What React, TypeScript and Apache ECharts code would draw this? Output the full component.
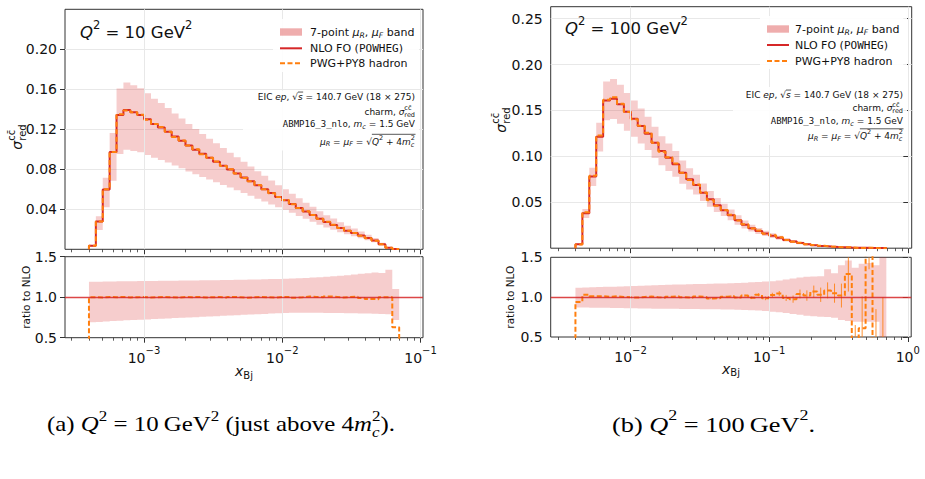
import React, { useEffect, useRef } from 'react';
import * as echarts from 'echarts';

// ---------------- data ----------------
// 45 log-uniform bins in x_Bj for each Q^2 value
const N_BINS = 45;
const X_RANGE_A = [4e-4, 0.07];
const X_RANGE_B = [4e-3, 0.7];

// axis limits (log10 x)
const X_VIEW_A = [-3.5712, -0.9826];
const X_VIEW_B = [-2.5764, 0.0245];
const DECADES_A = [-3, -2, -1];
const DECADES_B = [-2, -1, 0];

const Y_TICKS_A = [0.04, 0.08, 0.12, 0.16, 0.2];
const Y_TICKS_B = [0.05, 0.1, 0.15, 0.2, 0.25];
const RATIO_TICKS = [0.5, 1.0, 1.5];

// Q^2 = 10 GeV^2
const NLO_A = [0.0035, 0.0278, 0.0599, 0.0973, 0.1344, 0.1393, 0.137, 0.1344, 0.13, 0.1254, 0.1218, 0.1175, 0.1128, 0.1085, 0.1039, 0.0996, 0.0955, 0.0915, 0.0876, 0.0836, 0.0797, 0.0758, 0.0719, 0.068, 0.064, 0.0601, 0.0562, 0.0523, 0.049, 0.0452, 0.0413, 0.0377, 0.0342, 0.0305, 0.0272, 0.0244, 0.0213, 0.0186, 0.0162, 0.0138, 0.0113, 0.0087, 0.005, 0.0016, 0.0004];
const PWG_RATIO_A = [1.0, 0.996, 1.002, 1.0, 1.004, 0.997, 1.0, 1.002, 0.996, 1.0, 1.004, 1.0, 0.996, 1.002, 1.0, 1.004, 0.996, 1.0, 1.002, 0.995, 1.004, 1.0, 0.992, 1.0, 1.004, 1.0, 0.996, 1.002, 1.004, 0.994, 1.0, 1.008, 1.004, 1.0, 1.01, 1.004, 0.996, 1.002, 1.006, 0.99, 0.978, 0.975, 0.998, 1.0, 0.63];
const SCALE_UP_A = [1.19, 1.192, 1.194, 1.195, 1.196, 1.197, 1.198, 1.199, 1.2, 1.201, 1.202, 1.203, 1.204, 1.205, 1.206, 1.207, 1.208, 1.209, 1.21, 1.211, 1.212, 1.214, 1.216, 1.218, 1.22, 1.222, 1.224, 1.226, 1.228, 1.231, 1.234, 1.238, 1.242, 1.247, 1.252, 1.258, 1.265, 1.272, 1.28, 1.288, 1.296, 1.305, 1.3, 1.34, 1.1];
const SCALE_DN_A = [0.69, 0.695, 0.7, 0.705, 0.71, 0.714, 0.718, 0.722, 0.726, 0.73, 0.734, 0.738, 0.742, 0.746, 0.75, 0.754, 0.758, 0.762, 0.766, 0.77, 0.774, 0.778, 0.782, 0.786, 0.79, 0.794, 0.798, 0.802, 0.805, 0.807, 0.808, 0.808, 0.808, 0.807, 0.806, 0.805, 0.804, 0.803, 0.802, 0.8, 0.798, 0.796, 0.794, 0.79, 0.72];

// Q^2 = 100 GeV^2
const NLO_B = [0.0043, 0.038, 0.078, 0.1214, 0.1609, 0.1627, 0.1569, 0.1485, 0.141, 0.133, 0.1247, 0.1149, 0.1058, 0.0986, 0.0913, 0.0823, 0.075, 0.0688, 0.0605, 0.0533, 0.0467, 0.0413, 0.0359, 0.0304, 0.0256, 0.0216, 0.0186, 0.016, 0.0136, 0.0113, 0.009, 0.0072, 0.0056, 0.0043, 0.0033, 0.0025, 0.0018, 0.0013, 0.001, 0.0007, 0.0005, 0.0004, 0.0003, 0.0002, 0.0001];
const PWG_RATIO_B = [0.94, 1.03, 1.01, 1.012, 1.005, 1.01, 1.002, 0.998, 0.995, 1.003, 1.008, 1.0, 0.994, 1.004, 1.01, 0.998, 0.992, 1.008, 1.002, 0.982, 0.988, 1.004, 1.012, 0.996, 1.02, 0.992, 1.03, 0.985, 1.028, 1.045, 0.99, 0.975, 1.04, 1.02, 1.07, 1.03, 1.085, 1.05, 1.02, 1.29, 0.35, 0.61, 1.9, 0.25, 0.2];
const PWG_ERR_B = [0.002, 0.002, 0.002, 0.002, 0.002, 0.002, 0.002, 0.002, 0.003, 0.003, 0.003, 0.003, 0.004, 0.004, 0.004, 0.005, 0.005, 0.006, 0.006, 0.007, 0.008, 0.009, 0.01, 0.012, 0.014, 0.016, 0.019, 0.023, 0.027, 0.032, 0.038, 0.045, 0.055, 0.065, 0.075, 0.09, 0.1, 0.12, 0.15, 0.22, 0.3, 0.4, 0.55, 0.6, 0.8];
const SCALE_UP_B = [1.117, 1.12, 1.123, 1.126, 1.129, 1.132, 1.135, 1.138, 1.141, 1.144, 1.147, 1.15, 1.153, 1.156, 1.158, 1.16, 1.162, 1.164, 1.166, 1.168, 1.17, 1.172, 1.175, 1.178, 1.182, 1.186, 1.19, 1.195, 1.2, 1.21, 1.222, 1.235, 1.248, 1.255, 1.258, 1.262, 1.35, 1.3, 1.4, 1.46, 1.37, 1.42, 1.43, 1.4, 1.85];
const SCALE_DN_B = [0.87, 0.869, 0.868, 0.867, 0.866, 0.865, 0.864, 0.862, 0.86, 0.858, 0.857, 0.856, 0.855, 0.854, 0.853, 0.852, 0.851, 0.85, 0.849, 0.848, 0.847, 0.846, 0.845, 0.843, 0.84, 0.836, 0.831, 0.825, 0.818, 0.81, 0.8, 0.79, 0.778, 0.768, 0.76, 0.755, 0.75, 0.74, 0.712, 0.7, 0.692, 0.69, 0.69, 0.69, 0.2];

// ---------------- style ----------------
const SANS = 'DejaVu Sans';
const MONO = 'DejaVu Sans Mono';
const SERIF = 'Liberation Serif';
const INK = '#111';
const FRAME = '#333';
const RED = '#d62728';
const ORANGE = '#ff7f0e';
const BAND = 'rgba(214, 39, 40, 0.23)';
const BAND_KEY = 'rgba(214, 39, 40, 0.38)';
const GRID_GRAY = '#e8e8e8';

const GRIDS = [
  { left: 65, top: 9.3, width: 358, height: 240 },
  { left: 65, top: 256.7, width: 358, height: 81 },
  { left: 550.7, top: 6.7, width: 361, height: 241.5 },
  { left: 550.7, top: 257.3, width: 360.5, height: 79.7 },
];

// ---------------- text layout helpers ----------------
type Piece = { t: string; fs?: number; it?: boolean; mono?: boolean; dy?: number; stack?: boolean; bar?: boolean };

let measureCtx: CanvasRenderingContext2D | null = null;
function textWidth(text: string, size: number, family: string, italic: boolean) {
  if (!measureCtx) measureCtx = document.createElement('canvas').getContext('2d');
  measureCtx!.font = `${italic ? 'italic ' : ''}${size}px "${family}"`;
  return measureCtx!.measureText(text).width;
}

function layoutPieces(pieces: Piece[], base: number, family: string) {
  const pos: number[] = [];
  const widths: number[] = [];
  let cur = 0, prevStart = 0, prevW = 0;
  pieces.forEach((p) => {
    const w = textWidth(p.t, p.fs ?? base, p.mono ? MONO : family, !!p.it);
    if (p.stack) {
      pos.push(prevStart);
      prevW = Math.max(prevW, w);
      cur = prevStart + prevW;
    } else {
      pos.push(cur);
      prevStart = cur;
      prevW = w;
      cur += w;
    }
    widths.push(w);
  });
  return { pos, widths, total: cur };
}

function mathLine(
  pieces: Piece[], x: number, y: number, align: 'left' | 'right' | 'center',
  base: number, family: string, color = INK, barDy = -0.62, z = 20,
): any[] {
  const { pos, widths, total } = layoutPieces(pieces, base, family);
  const x0 = align === 'right' ? x - total : align === 'center' ? x - total / 2 : x;
  const els: any[] = pieces.map((p, i) => ({
    type: 'text', x: x0 + pos[i], y: y + (p.dy ?? 0), silent: true, z,
    style: {
      text: p.t, fontSize: p.fs ?? base, fontFamily: p.mono ? MONO : family,
      fontStyle: p.it ? 'italic' : 'normal', fill: color, align: 'left', verticalAlign: 'middle',
    },
  }));
  const barIdx = pieces.map((p, i) => (p.bar ? i : -1)).filter((i) => i >= 0);
  if (barIdx.length) {
    const bx0 = x0 + pos[barIdx[0]];
    const bx1 = x0 + Math.max(...barIdx.map((i) => pos[i] + widths[i]));
    els.push({
      type: 'line', silent: true, z,
      shape: { x1: bx0, y1: y + barDy * base, x2: bx1 + 0.5, y2: y + barDy * base },
      style: { stroke: color, lineWidth: 0.7 },
    });
  }
  return els;
}

// ---------------- chart pieces ----------------
function logEdges(range: number[], n: number) {
  const a = Math.log10(range[0]);
  const b = Math.log10(range[1]);
  return Array.from({ length: n + 1 }, (_, i) => a + ((b - a) * i) / n);
}

function minorLogTicks(view: number[]) {
  const out: number[] = [];
  for (let d = Math.floor(view[0]); d <= Math.ceil(view[1]); d++) {
    for (let k = 2; k <= 9; k++) {
      const v = d + Math.log10(k);
      if (v > view[0] && v < view[1]) out.push(v);
    }
  }
  return out;
}

function stepLine(xi: number, yi: number, edges: number[], vals: number[], color: string, dashed: boolean, z: number) {
  const n = vals.length;
  const pts: number[][] = [[edges[0], 0]];
  vals.forEach((v, i) => pts.push([edges[i], v]));
  pts.push([edges[n], vals[n - 1]]);
  pts.push([edges[n], 0]);
  return {
    type: 'line', xAxisIndex: xi, yAxisIndex: yi, z, step: 'end', data: pts,
    showSymbol: false, symbol: 'none', silent: true, clip: true,
    lineStyle: { color, width: 2, type: dashed ? [5, 2.5] : 'solid', cap: 'butt' },
  };
}

function bandSeries(xi: number, yi: number, edges: number[], lo: number[], hi: number[], yMin: number, yMax: number) {
  const c = (v: number) => Math.min(Math.max(v, yMin), yMax);
  return {
    type: 'custom', xAxisIndex: xi, yAxisIndex: yi, z: 2, silent: true,
    data: [[edges[0], c(lo[0])]],
    renderItem: (params: any, api: any) => {
      if (params.dataIndex !== 0) return null;
      const pts: number[][] = [];
      for (let i = 0; i < lo.length; i++) {
        pts.push(api.coord([edges[i], c(hi[i])]));
        pts.push(api.coord([edges[i + 1], c(hi[i])]));
      }
      for (let i = lo.length - 1; i >= 0; i--) {
        pts.push(api.coord([edges[i + 1], c(lo[i])]));
        pts.push(api.coord([edges[i], c(lo[i])]));
      }
      return { type: 'polygon', shape: { points: pts }, style: { fill: BAND } };
    },
  };
}

function errorBars(xi: number, yi: number, edges: number[], vals: number[], errs: number[], yMin: number, yMax: number) {
  const c = (v: number) => Math.min(Math.max(v, yMin), yMax);
  const data = vals.map((v, i) => [(edges[i] + edges[i + 1]) / 2, v - errs[i], v + errs[i]]);
  return {
    type: 'custom', xAxisIndex: xi, yAxisIndex: yi, z: 4, silent: true, data,
    renderItem: (_p: any, api: any) => {
      const a = c(api.value(1));
      const b = c(api.value(2));
      if (b - a <= 0) return null;
      const p0 = api.coord([api.value(0), a]);
      const p1 = api.coord([api.value(0), b]);
      if (Math.abs(p0[1] - p1[1]) < 1) return null;
      return { type: 'line', shape: { x1: p0[0], y1: p0[1], x2: p1[0], y2: p1[1] }, style: { stroke: ORANGE, lineWidth: 1, opacity: 0.85 } };
    },
  };
}

function gridMarks(xi: number, yi: number, items: any[], z: number) {
  return {
    type: 'line', xAxisIndex: xi, yAxisIndex: yi, z, data: [], silent: true,
    markLine: {
      silent: true, symbol: ['none', 'none'], label: { show: false }, animation: false,
      lineStyle: { color: GRID_GRAY, width: 1, type: 'solid' },
      data: items,
    },
  };
}

const PANELS = [
  {
    xRange: X_RANGE_A, xView: X_VIEW_A, decades: DECADES_A, yMax: 0.24, yStep: 0.04, yTicks: Y_TICKS_A,
    nlo: NLO_A, ratio: PWG_RATIO_A, up: SCALE_UP_A, dn: SCALE_DN_A, err: null as number[] | null,
    q2: '10',
    legendBox: { x: 273, y: 19, width: 146, height: 53 },
    legendX: 280, legendTextX: 310, legendRows: [32, 48.3, 63.3], titleX: 80, titleY: 32,
    noteBox: { x: 243, y: 90.5, width: 176, height: 60 },
    noteX: 415, noteRows: [97, 111.5, 124, 141.5], sigmaX: 17, sigmaY: 137,
    ratioLabelX: 26, xTitleX: 244, xTitleY: 371,
  },
  {
    xRange: X_RANGE_B, xView: X_VIEW_B, decades: DECADES_B, yMax: 0.263, yStep: 0.05, yTicks: Y_TICKS_B,
    nlo: NLO_B, ratio: PWG_RATIO_B, up: SCALE_UP_B, dn: SCALE_DN_B, err: PWG_ERR_B as number[] | null,
    q2: '100',
    legendBox: { x: 760, y: 16, width: 147, height: 53 },
    legendX: 767, legendTextX: 795, legendRows: [29, 45, 61], titleX: 565, titleY: 28,
    noteBox: { x: 733, y: 87, width: 174, height: 58 },
    noteX: 903, noteRows: [95, 108.3, 121, 136], sigmaX: 501, sigmaY: 120,
    ratioLabelX: 510, xTitleX: 731, xTitleY: 368.5,
  },
];

const CAPTIONS = [
  { x: 47, y: 424, width: 348, label: '(a) ', q2: '10', tail: true },
  { x: 612, y: 424, width: 203, label: '(b) ', q2: '100', tail: false },
];

function buildOption() {
  const grid: any[] = [];
  const xAxis: any[] = [];
  const yAxis: any[] = [];
  const series: any[] = [];
  const graphics: any[] = [];

  const tickLabelRich = {
    b: { fontSize: 14, fontFamily: SANS, color: INK, lineHeight: 24 },
    s: { fontSize: 10, fontFamily: SANS, color: INK, lineHeight: 10, verticalAlign: 'top' },
  };

  PANELS.forEach((P, p) => {
    const edges = logEdges(P.xRange, N_BINS);
    const minors = minorLogTicks(P.xView);
    [0, 1].forEach((row) => {
      const g = 2 * p + row;
      const isRatio = row === 1;
      grid.push({
        ...GRIDS[g], show: true, borderColor: FRAME, borderWidth: 1, backgroundColor: 'transparent',
        containLabel: false, outerBoundsMode: 'none',
      });
      xAxis.push({
        type: 'value', gridIndex: g, min: P.xView[0], max: P.xView[1], position: 'bottom',
        axisLine: { show: false }, splitLine: { show: false },
        axisTick: { show: true, customValues: P.decades, length: 5, lineStyle: { color: FRAME, width: 1 } },
        axisLabel: {
          show: isRatio, customValues: P.decades, margin: 8, rich: tickLabelRich,
          formatter: (v: number) => {
            const n = Math.round(v);
            return `{b|10}{s|${n < 0 ? '\u2212' + -n : n}}`;
          },
        },
      });
      xAxis.push({
        type: 'value', gridIndex: g, min: P.xView[0], max: P.xView[1], position: 'bottom',
        axisLine: { show: false }, splitLine: { show: false }, axisLabel: { show: false },
        axisTick: { show: true, customValues: minors, length: 3, lineStyle: { color: FRAME, width: 0.8 } },
      });
      if (!isRatio) {
        yAxis.push({
          type: 'value', gridIndex: g, min: 0, max: P.yMax, interval: P.yStep,
          axisLine: { show: false },
          axisTick: { show: true, customValues: P.yTicks, length: 5, lineStyle: { color: FRAME, width: 1 } },
          axisLabel: {
            customValues: P.yTicks, margin: 8, fontSize: 14, fontFamily: SANS, color: INK,
            formatter: (v: number) => v.toFixed(2),
          },
          splitLine: { show: true, lineStyle: { color: GRID_GRAY, width: 1 } },
        });
      } else {
        yAxis.push({
          type: 'value', gridIndex: g, min: 0.5, max: 1.5, interval: 0.5,
          axisLine: { show: false },
          axisTick: { show: true, customValues: RATIO_TICKS, length: 5, lineStyle: { color: FRAME, width: 1 } },
          axisLabel: {
            customValues: RATIO_TICKS, margin: 8, fontSize: 14, fontFamily: SANS, color: INK,
            formatter: (v: number) => v.toFixed(1),
          },
          splitLine: { show: false },
        });
      }
    });

    const gm = 2 * p;
    const gr = 2 * p + 1;
    const xm = 2 * gm;
    const xr = 2 * gr;
    const pwgMain = P.nlo.map((v, i) => v * P.ratio[i]);
    const lo = P.nlo.map((v, i) => v * P.dn[i]);
    const hi = P.nlo.map((v, i) => v * P.up[i]);

    // main panel
    series.push(gridMarks(xm, gm, P.decades.map((d) => ({ xAxis: d })), 1));
    series.push(bandSeries(xm, gm, edges, lo, hi, 0, P.yMax));
    series.push(stepLine(xm, gm, edges, P.nlo, RED, false, 3));
    series.push(stepLine(xm, gm, edges, pwgMain, ORANGE, true, 4));

    // ratio panel
    series.push(gridMarks(xr, gr, P.decades.map((d) => ({ xAxis: d })), 1));
    series.push(bandSeries(xr, gr, edges, P.dn, P.up, 0.5, 1.5));
    series.push({
      type: 'line', xAxisIndex: xr, yAxisIndex: gr, z: 3, data: [], silent: true,
      markLine: {
        silent: true, symbol: ['none', 'none'], label: { show: false }, animation: false,
        lineStyle: { color: RED, width: 1.3, type: 'solid', opacity: 0.85 },
        data: [{ yAxis: 1 }],
      },
    });
    series.push(stepLine(xr, gr, edges, P.ratio, ORANGE, true, 4));
    if (P.err) series.push(errorBars(xr, gr, edges, P.ratio, P.err, 0.5, 1.5));

    // legend
    const [r0, r1, r2] = P.legendRows;
    graphics.push({ type: 'rect', silent: true, z: 10, shape: P.legendBox, style: { fill: 'rgba(255,255,255,0.9)' } });
    graphics.push({ type: 'rect', silent: true, z: 20, shape: { x: P.legendX, y: r0 - 3.7, width: 22, height: 7.4 }, style: { fill: BAND_KEY } });
    graphics.push({ type: 'line', silent: true, z: 20, shape: { x1: P.legendX, y1: r1, x2: P.legendX + 22, y2: r1 }, style: { stroke: RED, lineWidth: 2 } });
    graphics.push({ type: 'line', silent: true, z: 20, shape: { x1: P.legendX, y1: r2, x2: P.legendX + 22, y2: r2 }, style: { stroke: ORANGE, lineWidth: 2, lineDash: [5, 2.5] } });
    graphics.push(...mathLine([
      { t: '7-point ' }, { t: 'μ', it: true }, { t: 'R', it: true, fs: 7.7, dy: 3 }, { t: ', ' },
      { t: 'μ', it: true }, { t: 'F', it: true, fs: 7.7, dy: 3 }, { t: ' band' },
    ], P.legendTextX, r0, 'left', 11, SANS));
    graphics.push(...mathLine([{ t: 'NLO FO (' }, { t: 'POWHEG', mono: true }, { t: ')' }], P.legendTextX, r1, 'left', 11, SANS));
    graphics.push(...mathLine([{ t: 'PWG+PY8 hadron' }], P.legendTextX, r2, 'left', 11, SANS));

    // Q^2 tag
    graphics.push(...mathLine([
      { t: 'Q', it: true }, { t: '2', fs: 11.5, dy: -7 }, { t: ' = ' + P.q2 + ' GeV' }, { t: '2', fs: 11.5, dy: -7 },
    ], P.titleX, P.titleY, 'left', 16.5, SANS));

    // setup note
    graphics.push({ type: 'rect', silent: true, z: 10, shape: P.noteBox, style: { fill: 'rgba(255,255,255,0.9)' } });
    const [n0, n1, n2, n3] = P.noteRows;
    graphics.push(...mathLine([
      { t: 'EIC ' }, { t: 'ep', it: true }, { t: ', √' }, { t: 's', it: true, bar: true }, { t: ' = 140.7 GeV (18 × 275)' },
    ], P.noteX, n0, 'right', 9, SANS, INK, -0.55));
    graphics.push(...mathLine([
      { t: 'charm, ' }, { t: 'σ', it: true }, { t: 'cc\u0304', fs: 6.5, dy: -3.8 }, { t: 'red', fs: 6.5, dy: 3.0, stack: true },
    ], P.noteX, n1, 'right', 9, SANS));
    graphics.push(...mathLine([
      { t: 'ABMP16_3_nlo', mono: true }, { t: ', ' }, { t: 'm', it: true }, { t: 'c', it: true, fs: 6.5, dy: 2.5 }, { t: ' = 1.5 GeV' },
    ], P.noteX, n2, 'right', 9, SANS));
    graphics.push(...mathLine([
      { t: 'μ', it: true }, { t: 'R', it: true, fs: 6.5, dy: 2.5 }, { t: ' = ' },
      { t: 'μ', it: true }, { t: 'F', it: true, fs: 6.5, dy: 2.5 }, { t: ' = √' },
      { t: 'Q', it: true, bar: true }, { t: '2', fs: 6.5, dy: -3.8, bar: true }, { t: ' + 4', bar: true },
      { t: 'm', it: true, bar: true }, { t: '2', fs: 6.5, dy: -3.8, bar: true }, { t: 'c', it: true, fs: 6.5, dy: 3.0, stack: true, bar: true },
    ], P.noteX, n3, 'right', 9, SANS, INK, -0.8));

    // y titles
    graphics.push({
      type: 'group', x: P.sigmaX, y: P.sigmaY, rotation: Math.PI / 2, silent: true,
      children: mathLine([
        { t: 'σ', it: true }, { t: 'cc\u0304', fs: 10, dy: -5.5 }, { t: 'red', fs: 10, dy: 5, stack: true },
      ], 0, 0, 'center', 14, SANS),
    });
    const rMid = GRIDS[gr].top + GRIDS[gr].height / 2;
    graphics.push({
      type: 'group', x: P.ratioLabelX, y: rMid, rotation: Math.PI / 2, silent: true,
      children: mathLine([{ t: 'ratio to NLO' }], 0, 0, 'center', 10.5, SANS),
    });

    // x title
    graphics.push(...mathLine([{ t: 'x', it: true }, { t: 'Bj', fs: 10, dy: 4 }], P.xTitleX, P.xTitleY, 'center', 14, SANS));
  });

  // sub-figure captions
  CAPTIONS.forEach((c) => {
    const pieces: Piece[] = [
      { t: c.label }, { t: 'Q', it: true }, { t: '2', fs: 15, dy: -8.5 }, { t: ' = ' + c.q2 + '\u2009GeV' }, { t: '2', fs: 15, dy: -8.5 },
    ];
    if (c.tail) {
      pieces.push({ t: ' (just above 4' }, { t: 'm', it: true }, { t: '2', fs: 15, dy: -8.5 }, { t: 'c', it: true, fs: 15, dy: 7.5, stack: true }, { t: ').' });
    } else {
      pieces.push({ t: '.' });
    }
    const base = 22;
    const { total } = layoutPieces(pieces, base, SERIF);
    graphics.push({
      type: 'group', x: c.x, y: c.y, scaleX: c.width / total, scaleY: 1, silent: true,
      children: mathLine(pieces, 0, 0, 'left', base, SERIF, '#000'),
    });
  });

  return {
    animation: false,
    backgroundColor: '#fff',
    grid, xAxis, yAxis, series,
    graphic: { elements: graphics },
  };
}

export default function App() {
  const ref = useRef<HTMLDivElement>(null);
  useEffect(() => {
    const chart = echarts.init(ref.current!, undefined, { renderer: 'svg' });
    chart.setOption(buildOption() as any);
    return () => chart.dispose();
  }, []);
  return (
    <div
      ref={ref}
      style={{ position: 'absolute', left: 0, top: 0, width: 925, height: 479, background: '#fff' }}
    />
  );
}
